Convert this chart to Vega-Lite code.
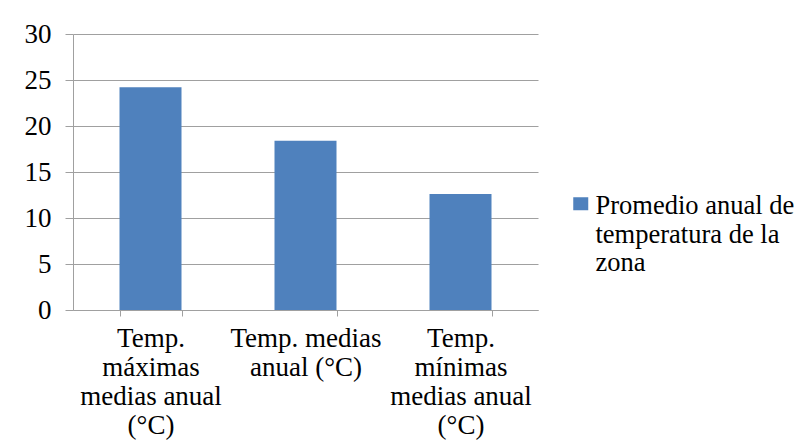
{
  "$schema": "https://vega.github.io/schema/vega-lite/v6.json",
  "width": 465,
  "height": 276,
  "autosize": {"type": "none"},
  "padding": {"left": 73, "top": 34, "right": 266, "bottom": 137},
  "background": "white",
  "config": {"view": {"stroke": null}, "font": "Liberation Serif"},
  "data": {"values": [
    {"cat": "Temp.|máximas|medias anual|(°C)", "ord": 1, "serie": "Promedio anual de temperatura de la zona", "valor": 24.2},
    {"cat": "Temp. medias|anual (°C)", "ord": 2, "serie": "Promedio anual de temperatura de la zona", "valor": 18.4},
    {"cat": "Temp.|mínimas|medias anual|(°C)", "ord": 3, "serie": "Promedio anual de temperatura de la zona", "valor": 12.6}
  ]},
  "mark": {"type": "bar", "color": "#4F81BD"},
  "encoding": {
    "x": {
      "field": "cat", "type": "nominal", "sort": {"field": "ord"},
      "scale": {"paddingInner": 0.6, "paddingOuter": 0.3},
      "axis": {
        "title": null, "labelAngle": 0, "labelExpr": "split(datum.label, '|')",
        "labelFont": "Liberation Serif", "labelFontSize": 27, "labelColor": "#000",
        "labelLineHeight": 29, "labelBaseline": "top", "labelPadding": 9,
        "tickBand": "extent", "tickSize": 6, "tickColor": "#a0a0a0", "domainColor": "#a0a0a0",
        "labelLimit": 300
      }
    },
    "y": {
      "field": "valor", "type": "quantitative",
      "scale": {"domain": [0, 30]},
      "axis": {
        "title": null, "values": [0, 5, 10, 15, 20, 25, 30],
        "labelFont": "Liberation Serif", "labelFontSize": 27, "labelColor": "#000",
        "labelPadding": 14, "tickSize": 8, "tickColor": "#a0a0a0", "domainColor": "#a0a0a0",
        "gridColor": "#a0a0a0", "gridOpacity": 1
      }
    },
    "color": {
      "field": "serie", "type": "nominal",
      "scale": {"range": ["#4F81BD"]},
      "legend": {
        "title": null, "orient": "none", "legendX": 490, "legendY": 167,
        "symbolType": "M-0.25,-1.417H1V-0.333H-0.25Z", "symbolSize": 576, "symbolStrokeWidth": 0,
        "labelFont": "Liberation Serif", "labelFontSize": 26.5, "labelColor": "#000",
        "labelExpr": "['Promedio anual de', 'temperatura de la', 'zona']",
        "labelLineHeight": 29, "labelBaseline": "alphabetic", "labelOffset": 6, "labelLimit": 300
      }
    }
  }
}
